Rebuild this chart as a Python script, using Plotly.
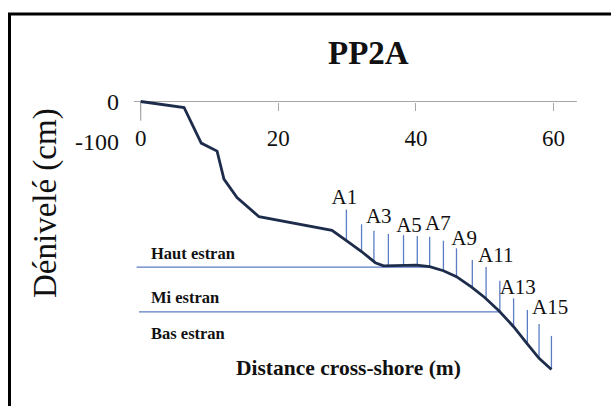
import plotly.graph_objects as go

# ---- data (distance in m, elevation in cm) ----
profile_x = [0, 6.3, 8.8, 11.1, 12.1, 14.0, 17.2, 27.8, 29.9, 32.1, 34.1, 35.3,
             40.1, 42.0, 44.0, 45.9, 48.1, 50.0, 52.1, 54.2, 56.1, 57.9, 59.7]
profile_y = [0, -15, -104, -124, -194, -240, -288, -322, -348, -375, -403, -411,
             -409, -413, -423, -438, -464, -490, -524, -563, -604, -642, -670]

stations_x = [29.9, 32.1, 33.9, 36.0, 38.2, 40.2, 42.0, 44.0, 45.9, 48.2, 50.2,
              52.2, 54.2, 56.2, 57.9, 59.7]
stations_top = [-270, -307, -323, -331, -334, -336, -338, -348, -367, -396, -414,
                -448, -492, -521, -556, -586]
stations_bottom = [-348, -375, -401, -411, -410, -409, -413, -423, -438, -466, -492,
                   -525, -564, -606, -641, -669]

station_labels = ["A1", "A3", "A5", "A7", "A9", "A11", "A13", "A15"]
station_label_x = [29.6, 34.6, 39.0, 43.2, 47.0, 51.6, 54.8, 59.5]
station_label_y = [-244, -291, -312, -308, -346, -387, -469, -519]

zone_names = ["Haut estran", "Mi estran", "Bas estran"]
zone_label_y = [-379, -489, -580]
zone_lines_y = [-414, -526]
zone_lines_x0 = [-0.6, -0.25]
zone_lines_x1 = [42.0, 52.1]

x_ticks = [0, 20, 40, 60]
y_ticks = [0, -100]
y_ticktext = ["0", "-100"]

axis_x_extent = [-1.0, 63.4]

W, H = 611, 406
FONT = "Liberation Serif"
BLUE = "#5a7dc4"
NAVY = "#1e2c4c"
GRAY = "#a6a6a6"

fig = go.Figure()

# x axis line and y stub
fig.add_trace(go.Scatter(x=axis_x_extent, y=[0, 0], mode="lines",
                         line=dict(color=GRAY, width=1.2), hoverinfo="skip"))
fig.add_trace(go.Scatter(x=[0, 0], y=[0, -48], mode="lines",
                         line=dict(color=GRAY, width=1.2), hoverinfo="skip"))

# zone lines
for y, x0, x1 in zip(zone_lines_y, zone_lines_x0, zone_lines_x1):
    fig.add_trace(go.Scatter(x=[x0, x1], y=[y, y], mode="lines",
                             line=dict(color=BLUE, width=1.3), hoverinfo="skip"))

# station verticals
vx, vy = [], []
for x, b, t in zip(stations_x, stations_bottom, stations_top):
    vx += [x, x, None]
    vy += [b, t, None]
fig.add_trace(go.Scatter(x=vx, y=vy, mode="lines",
                         line=dict(color=BLUE, width=1.3), hoverinfo="skip"))

# profile
fig.add_trace(go.Scatter(x=profile_x, y=profile_y, mode="lines",
                         line=dict(color=NAVY, width=2.8), hoverinfo="skip"))

# station labels
fig.add_trace(go.Scatter(x=station_label_x, y=station_label_y, mode="text",
                         text=station_labels,
                         textfont=dict(family=FONT, size=21, color="#111111"),
                         textposition="middle center", hoverinfo="skip"))

annotations = []
for name, y in zip(zone_names, zone_label_y):
    annotations.append(dict(x=1.2, y=y, xref="x", yref="y", text=f"<b>{name}</b>",
                            showarrow=False, xanchor="left", yanchor="middle",
                            font=dict(family=FONT, size=16.5, color="#111111")))

def px(xp, yp):
    return xp / W, 1 - yp / H

tx, ty = px(368, 53)
annotations.append(dict(x=tx, y=ty, xref="paper", yref="paper", text="<b>PP2A</b>",
                        showarrow=False, xanchor="center", yanchor="middle",
                        font=dict(family=FONT, size=33, color="#111111")))
ax_, ay_ = px(348, 368)
annotations.append(dict(x=ax_, y=ay_, xref="paper", yref="paper",
                        text="<b>Distance cross-shore (m)</b>",
                        showarrow=False, xanchor="center", yanchor="middle",
                        font=dict(family=FONT, size=21.5, color="#111111")))
yx_, yy_ = px(45, 203)
annotations.append(dict(x=yx_, y=yy_, xref="paper", yref="paper",
                        text="Dénivelé (cm)", textangle=-90,
                        showarrow=False, xanchor="center", yanchor="middle",
                        font=dict(family=FONT, size=33, color="#111111")))

x0px, k_x = 140.7, 6.88
y0px, k_y = 101.5, 0.40
xr = [-x0px / k_x, (W - x0px) / k_x]
yr = [-(H - y0px) / k_y, y0px / k_y]

fig.update_layout(
    width=W, height=H, margin=dict(l=0, r=0, t=0, b=0),
    paper_bgcolor="white", plot_bgcolor="white", showlegend=False,
    annotations=annotations,
    xaxis=dict(range=xr, domain=[0, 1], anchor="free", position=1 - y0px / H,
               tickvals=x_ticks, ticks="outside", ticklen=8, tickcolor=GRAY,
               tickwidth=1.2, showgrid=False, zeroline=False, showline=False,
               ticklabelstandoff=8,
               tickfont=dict(family=FONT, size=23, color="#111111")),
    yaxis=dict(range=yr, domain=[0, 1], anchor="free", position=119 / W,
               tickvals=y_ticks, ticktext=y_ticktext, ticks="",
               showgrid=False, zeroline=False, showline=False,
               tickfont=dict(family=FONT, size=24, color="#111111")),
    shapes=[dict(type="rect", xref="paper", yref="paper",
                 x0=9.5 / W, x1=1.05, y0=-0.05, y1=1 - 14 / H,
                 line=dict(color="black", width=3))],
)

fig.write_html("out.html")
